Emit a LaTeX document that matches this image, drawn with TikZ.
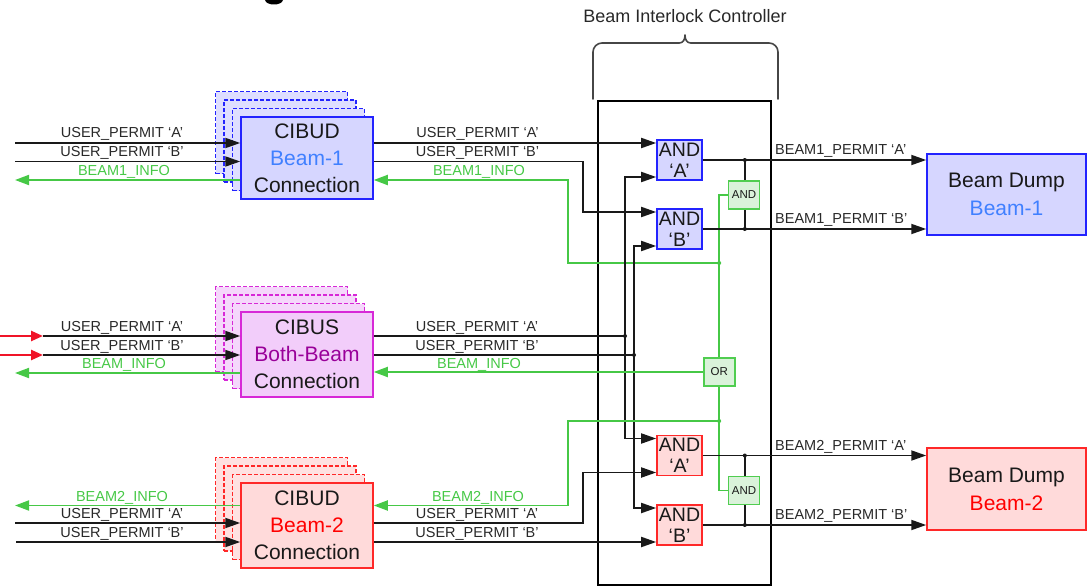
\documentclass[tikz,border=0pt]{standalone}
\usepackage{fontspec}
\setmainfont{Liberation Sans}
\usetikzlibrary{arrows.meta,calc}
\definecolor{wirec}{RGB}{25,25,25}
\definecolor{lblc}{RGB}{40,40,40}
\definecolor{txtc}{RGB}{25,25,25}
\definecolor{grn}{RGB}{70,200,70}
\definecolor{grnb}{RGB}{80,205,80}
\definecolor{grnf}{RGB}{218,242,218}
\definecolor{bluB}{RGB}{35,35,255}
\definecolor{bluF}{RGB}{214,214,255}
\definecolor{magB}{RGB}{215,40,215}
\definecolor{magF}{RGB}{242,205,250}
\definecolor{redB}{RGB}{255,40,40}
\definecolor{redF}{RGB}{255,218,218}
\definecolor{b1t}{RGB}{64,128,255}
\definecolor{bbt}{RGB}{153,0,153}
\definecolor{b2t}{RGB}{255,0,0}
\definecolor{redw}{RGB}{240,20,40}
\definecolor{bracec}{RGB}{70,70,70}
\begin{document}
\begin{tikzpicture}[x=1pt,y=-1pt,
  wire/.style={draw=wirec,line width=1.8pt},
  gwire/.style={draw=grn,line width=1.8pt},
  redwire/.style={draw=redw,line width=2.4pt},
  toblk/.style={-{Triangle[length=15pt,width=10pt]}},
  togrn/.style={-{Triangle[length=14pt,width=10pt]}},
  tored/.style={-{Triangle[length=12pt,width=10pt]}},
  lbl/.style={font=\fontsize{14.5}{16}\selectfont,text=lblc,anchor=base,inner sep=0pt},
  glbl/.style={lbl,text=grn},
  plbl/.style={font=\fontsize{14.5}{16}\selectfont,text=lblc,anchor=base west,inner sep=0pt},
  conn/.style={rectangle,draw,line width=1.5pt,minimum width=132pt,inner sep=0pt,align=center,font=\fontsize{21}{27}\selectfont,text=txtc},
  ghost/.style={rectangle,draw,line width=1.3pt,dash pattern=on 4pt off 2pt,minimum width=132pt,inner sep=0pt},
  gate/.style={rectangle,draw,line width=1.6pt,minimum width=45pt,minimum height=40pt,inner sep=0pt,align=center,font=\fontsize{19.5}{21}\selectfont,text=txtc},
  ggate/.style={rectangle,draw=grnb,fill=grnf,line width=1.6pt,minimum width=31pt,minimum height=28pt,inner sep=0pt,font=\fontsize{11.5}{12}\selectfont,text=txtc},
  dump/.style={rectangle,draw,line width=1.5pt,minimum width=159pt,minimum height=81pt,inner sep=0pt,align=center,font=\fontsize{21}{28}\selectfont,text=txtc},
  brc/.style={draw=bracec,line width=1.6pt,line cap=round,line join=round}
]
\useasboundingbox (0,0) rectangle (1087,586);

% cut-off glyph at the top edge
\fill[black] (265,0) .. controls (266,6) and (282,6) .. (283,0) -- cycle;

% controller box, brace and title
\node[draw=black,line width=2.8pt,minimum width=173pt,minimum height=484pt,inner sep=0pt] (bic) at (684.5,343) {};
\draw[brc,rounded corners=9pt] (593,99) |- (679,43);
\draw[brc] (679,43) .. controls (683,43) and (685,40) .. (685,35) .. controls (685,40) and (687,43) .. (691,43);
\draw[brc,rounded corners=9pt] (691,43) -| (778,99);
\node[font=\fontsize{18}{20}\selectfont,text=lblc,anchor=base,inner sep=0pt] (ttl) at (685,23) {Beam Interlock Controller};

% connection boxes
\node[ghost,draw=bluB,fill=bluF!80,minimum height=82pt] (c1g3) at (281.5,132.5) {};
\node[ghost,draw=bluB,fill=bluF!80,minimum height=82pt] (c1g2) at (290,141) {};
\node[ghost,draw=bluB,fill=bluF!80,minimum height=82pt] (c1g1) at (298.5,149.5) {};
\node[conn,draw=bluB,fill=bluF,minimum height=82pt] (cibud1) at (307,158) {CIBUD\\\textcolor{b1t}{Beam-1}\\Connection};

\node[ghost,draw=magB,fill=magF!80,minimum height=85pt] (c2g3) at (281.5,329) {};
\node[ghost,draw=magB,fill=magF!80,minimum height=85pt] (c2g2) at (290,337.5) {};
\node[ghost,draw=magB,fill=magF!80,minimum height=85pt] (c2g1) at (298.5,346) {};
\node[conn,draw=magB,fill=magF,minimum height=85pt] (cibus) at (307,354.5) {CIBUS\\\textcolor{bbt}{Both-Beam}\\Connection};

\node[ghost,draw=redB,fill=redF!80,minimum height=85pt] (c3g3) at (281.5,500) {};
\node[ghost,draw=redB,fill=redF!80,minimum height=85pt] (c3g2) at (290,508.5) {};
\node[ghost,draw=redB,fill=redF!80,minimum height=85pt] (c3g1) at (298.5,517) {};
\node[conn,draw=redB,fill=redF,minimum height=85pt] (cibud2) at (307,525.5) {CIBUD\\\textcolor{b2t}{Beam-2}\\Connection};

% beam dumps
\node[dump,draw=bluB,fill=bluF] (bd1) at (1006.5,194.5) {Beam Dump\\\textcolor{b1t}{Beam-1}};
\node[dump,draw=redB,fill=redF,minimum height=82pt] (bd2) at (1006.5,489) {Beam Dump\\\textcolor{b2t}{Beam-2}};

% AND gates
\node[gate,draw=bluB,fill=bluF] (andA1) at (679.5,160) {AND\\‘A’};
\node[gate,draw=bluB,fill=bluF] (andB1) at (679.5,229) {AND\\‘B’};
\node[gate,draw=redB,fill=redF] (andA2) at (679.5,455.5) {AND\\‘A’};
\node[gate,draw=redB,fill=redF] (andB2) at (679.5,525) {AND\\‘B’};

% output junction lines (behind the green gates)
\coordinate (jA1) at ($(andA1.east)+(42,0)$);
\coordinate (jB1) at (jA1 |- andB1.east);
\coordinate (jA2) at ($(andA2.east)+(42,0)$);
\coordinate (jB2) at (jA2 |- andB2.east);
\draw[wire] (jA1) -- (jB1);
\draw[wire] (jA2) -- (jB2);
\fill[wirec] (jA1) circle (2pt) (jB1) circle (2pt) (jA2) circle (2pt) (jB2) circle (2pt);

\node[ggate] (g1) at (744,195) {AND};
\node[ggate] (g2) at (744,490.5) {AND};

% green vertical bus
\coordinate (gtop) at ($(g1.west)+(-8.5,0)$);
\draw[gwire] (g1.west) -- (gtop) |- (g2.west);
\node[ggate] (or) at (gtop |- 0,372) {OR};
\coordinate (jg1) at (gtop |- 0,263);
\coordinate (jg2) at (gtop |- 0,421);
\fill[grn] (jg1) circle (2pt) (jg2) circle (2pt);

% outputs to beam dumps
\draw[wire,toblk] (andA1.east) -- (andA1.east -| bd1.west);
\draw[wire,toblk] (andB1.east) -- (andB1.east -| bd1.west);
\draw[wire,toblk] (andA2.east) -- (andA2.east -| bd2.west);
\draw[wire,toblk] (andB2.east) -- (andB2.east -| bd2.west);
\node[plbl] (p1a) at (775,154.5) {BEAM1\_PERMIT ‘A’};
\node[plbl] (p1b) at (775,223.5) {BEAM1\_PERMIT ‘B’};
\node[plbl] (p2a) at (775,450) {BEAM2\_PERMIT ‘A’};
\node[plbl] (p2b) at (775,519.5) {BEAM2\_PERMIT ‘B’};

% left end points
\coordinate (L1a) at (15,143);
\coordinate (L1b) at (15,161.5);
\coordinate (L1i) at (15,180);
\coordinate (R2a) at (0,336);
\coordinate (R2b) at (0,355);
\coordinate (L2a) at (43,336);
\coordinate (L2b) at (43,355);
\coordinate (L2i) at (15,373);
\coordinate (L3i) at (15,505.5);
\coordinate (L3a) at (15,523);
\coordinate (L3b) at (16,542);

% group 1 (beam 1)
\draw[wire,toblk] (L1a) -- (L1a -| cibud1.west);
\draw[wire,toblk] (L1b) -- (L1b -| cibud1.west);
\draw[gwire,togrn] (cibud1.west |- L1i) -- (L1i);
\node[lbl] (l1a) at (122,137.5) {USER\_PERMIT ‘A’};
\node[lbl] (l1b) at (122,156) {USER\_PERMIT ‘B’};
\node[glbl] (l1i) at (124,175) {BEAM1\_INFO};

\coordinate (k1b) at (583,161.5);
\coordinate (k1i) at (568,180);
\draw[wire,toblk] (cibud1.east |- L1a) -- ($(andA1.west)+(0,-17)$);
\draw[wire,toblk] (cibud1.east |- k1b) -- (k1b) |- ($(andB1.west)+(0,-17)$);
\draw[gwire,togrn] (jg1) -| (k1i) -- (cibud1.east |- k1i);
\node[lbl] (r1a) at (477.5,137.5) {USER\_PERMIT ‘A’};
\node[lbl] (r1b) at (477.5,156) {USER\_PERMIT ‘B’};
\node[glbl] (r1i) at (479,175) {BEAM1\_INFO};

% group 2 (both beams)
\draw[redwire,tored] (R2a) -- (L2a);
\draw[redwire,tored] (R2b) -- (L2b);
\draw[wire,toblk] (L2a) -- (L2a -| cibus.west);
\draw[wire,toblk] (L2b) -- (L2b -| cibus.west);
\draw[gwire,togrn] (cibus.west |- L2i) -- (L2i);
\node[lbl] (l2a) at (122,331.5) {USER\_PERMIT ‘A’};
\node[lbl] (l2b) at (122,350) {USER\_PERMIT ‘B’};
\node[glbl] (l2i) at (124,368) {BEAM\_INFO};

\coordinate (v2a) at (625,336);
\coordinate (v2b) at (634,355);
\draw[wire] (cibus.east |- v2a) -- (v2a);
\draw[wire] (cibus.east |- v2b) -- (v2b);
\draw[wire,toblk] (v2a) |- ($(andA1.west)+(0,17)$);
\draw[wire,toblk] (v2a) |- ($(andA2.west)+(0,-17)$);
\draw[wire,toblk] (v2b) |- ($(andB1.west)+(0,17)$);
\draw[wire,toblk] (v2b) |- ($(andB2.west)+(0,-17)$);
\fill[wirec] (v2a) circle (2pt) (v2b) circle (2pt);
\draw[gwire,togrn] (or.west) -- (or.west -| cibus.east);
\node[lbl] (r2a) at (477,331.5) {USER\_PERMIT ‘A’};
\node[lbl] (r2b) at (477,350) {USER\_PERMIT ‘B’};
\node[glbl] (r2i) at (479,368) {BEAM\_INFO};

% group 3 (beam 2)
\draw[gwire,togrn] (cibud2.west |- L3i) -- (L3i);
\draw[wire,toblk] (L3a) -- (L3a -| cibud2.west);
\draw[wire,toblk] (L3b) -- (L3b -| cibud2.west);
\node[glbl] (l3i) at (122,501) {BEAM2\_INFO};
\node[lbl] (l3a) at (122,518.5) {USER\_PERMIT ‘A’};
\node[lbl] (l3b) at (122,537) {USER\_PERMIT ‘B’};

\coordinate (k3a) at (583,523);
\coordinate (k3i) at (568,505.5);
\draw[gwire,togrn] (jg2) -| (k3i) -- (cibud2.east |- k3i);
\draw[wire,toblk] (cibud2.east |- k3a) -- (k3a) |- ($(andA2.west)+(0,17)$);
\draw[wire,toblk] (cibud2.east |- L3b) -- ($(andB2.west)+(0,17)$);
\node[glbl] (r3i) at (478,501) {BEAM2\_INFO};
\node[lbl] (r3a) at (477,518.5) {USER\_PERMIT ‘A’};
\node[lbl] (r3b) at (477,537) {USER\_PERMIT ‘B’};
\end{tikzpicture}
\end{document}
